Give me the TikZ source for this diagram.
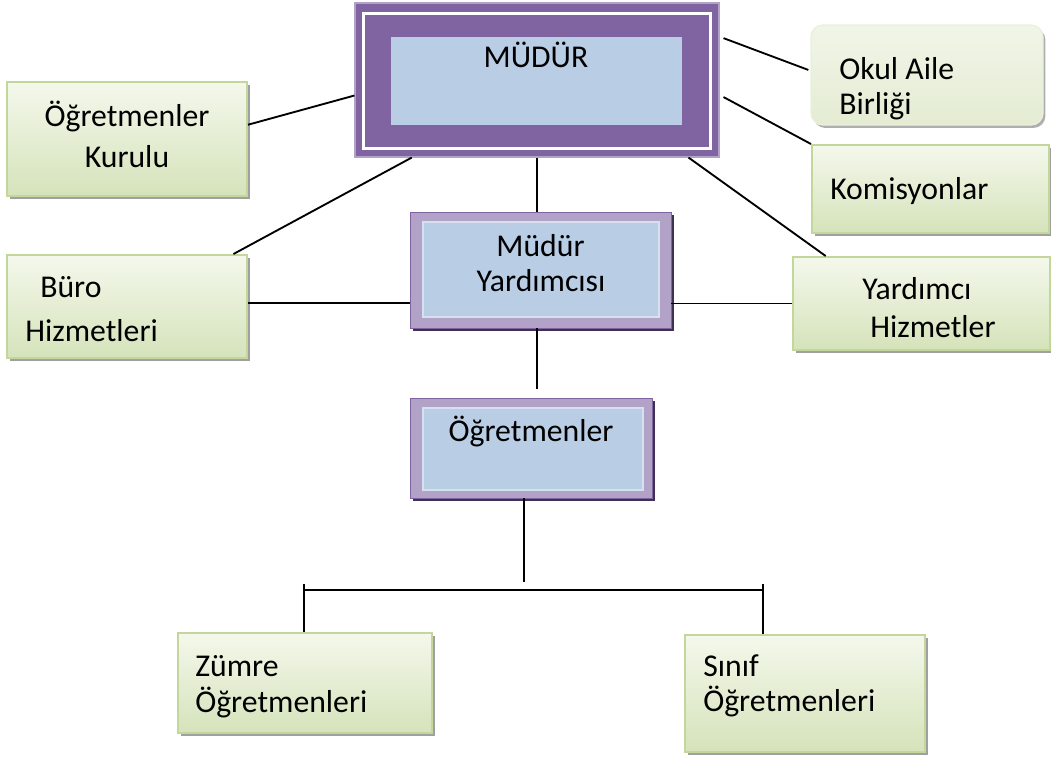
\documentclass[tikz,border=0pt]{standalone}
\usepackage{fontspec}
\setmainfont{Carlito}
\usetikzlibrary{calc,shadows}
\definecolor{grnTop}{HTML}{F4F8EC}
\definecolor{grnBot}{HTML}{D5E3BA}
\definecolor{grnLine}{HTML}{C3D69B}
\definecolor{purD}{HTML}{8064A2}
\definecolor{purL}{HTML}{B3A2C7}
\definecolor{purS}{HTML}{3F3151}
\definecolor{blueF}{HTML}{B9CDE5}
\definecolor{okulT}{HTML}{F1F5E8}
\definecolor{okulB}{HTML}{E4ECD3}
\begin{document}
\begin{tikzpicture}[x=0.75pt,y=-0.75pt,
  sz/.style 2 args={minimum width=#1*0.75pt, minimum height=#2*0.75pt},
  greenbox/.style={rectangle, inner sep=0pt, draw=grnLine, line width=1.5pt,
    top color=grnTop, bottom color=grnBot,
    drop shadow={shadow xshift=2.3pt, shadow yshift=-2.3pt, fill=black!50, opacity=0.75}},
  okulbox/.style={rectangle, rounded corners=9pt, inner sep=0pt, draw=okulB!80!white, line width=1pt,
    top color=okulT, bottom color=okulB,
    drop shadow={shadow xshift=1.8pt, shadow yshift=-2.2pt, fill=black!45, opacity=0.7}},
  purframe/.style={rectangle, inner sep=0pt, draw=purD, line width=0.6pt,
    top color=purL, middle color=purD!90!black, bottom color=purL,
    drop shadow={shadow xshift=2.3pt, shadow yshift=-2.3pt, fill=purS, opacity=1}},
  bluebox/.style={rectangle, inner sep=0pt, fill=blueF, draw=blueF!60!white, line width=0.8pt},
  txt/.style={inner sep=0pt, font=\fontsize{23.8}{28}\selectfont},
  conn/.style={draw=black, line width=1.4pt}]
\useasboundingbox (0,0) rectangle (1051,758);

% ---- MÜDÜR ----
\node[rectangle, inner sep=0pt, fill=purD, draw=purL, line width=0.8pt, sz={364}{154}] (mudur) at (537,80) {};
\node[rectangle, inner sep=0pt, draw=white, line width=2.6pt, sz={347}{135}] (mudurw) at (537,81) {};
\node[bluebox, draw=none, sz={291}{88}] (mudurin) at (536.5,81) {};
\node[txt, anchor=mid] (tmudur) at (536,64) {MÜDÜR};

% ---- Müdür Yardımcısı ----
\node[purframe, sz={261}{116}] (yrd) at (540.5,270) {};
\node[bluebox, sz={236}{95}] (yrdin) at (541,269.5) {};
\node[txt, anchor=mid] (tyrd1) at (540.5,253) {Müdür};
\node[txt, anchor=mid] (tyrd2) at (541,288) {Yardımcısı};

% ---- Öğretmenler ----
\node[purframe, sz={242}{100}] (ogr) at (531,448) {};
\node[bluebox, sz={220}{82}] (ogrin) at (533,449) {};
\node[txt, anchor=mid] (togr) at (531,438) {Öğretmenler};

% ---- green boxes ----
\node[greenbox, sz={240}{114}] (kurulu) at (127,139) {};
\node[txt, anchor=mid] (tkur1) at (127,123) {Öğretmenler};
\node[txt, anchor=mid] (tkur2) at (127,164) {Kurulu};

\node[greenbox, sz={240}{103}] (buro) at (127,306.5) {};
\node[txt, anchor=mid west] (tburo1) at (40,294) {Büro};
\node[txt, anchor=mid west] (tburo2) at (25,338) {Hizmetleri};

\node[okulbox, sz={232}{100}] (okul) at (927,75) {};
\node[txt, anchor=mid west] (tokul1) at (839,76) {Okul Aile};
\node[txt, anchor=mid west] (tokul2) at (839,111) {Birliği};

\node[greenbox, sz={237}{88}] (komis) at (930.5,189) {};
\node[txt, anchor=mid west] (tkomis) at (830,196) {Komisyonlar};

\node[greenbox, sz={257}{93}] (yard) at (921.5,303.5) {};
\node[txt, anchor=mid west] (tyard1) at (862,296) {Yardımcı};
\node[txt, anchor=mid west] (tyard2) at (870,334) {Hizmetler};

\node[greenbox, sz={254}{100}] (zumre) at (305,683) {};
\node[txt, anchor=mid west] (tzum1) at (195,673) {Zümre};
\node[txt, anchor=mid west] (tzum2) at (195,709) {Öğretmenleri};

\node[greenbox, sz={240}{117}] (sinif) at (805,693.5) {};
\node[txt, anchor=mid west] (tsin1) at (703,673) {Sınıf};
\node[txt, anchor=mid west] (tsin2) at (703,708) {Öğretmenleri};

% ---- connectors ----
\draw[conn] ($(kurulu.north east)!0.377!(kurulu.south east)$) -- ($(mudur.north west)!0.60!(mudur.south west)$);
\draw[conn] ($(mudur.south west)!0.157!(mudur.south east)$) -- ($(buro.north west)!0.94!(buro.north east)$);
\draw[conn] (mudur.south) -- (mudur.south |- yrd.north);
\draw[conn] ($(mudur.south west)!0.915!(mudur.south east)$) -- ($(yard.north west)!0.13!(yard.north east)$);
\draw[conn] ($(mudur.north east)!0.23!(mudur.south east)+(4,0)$) -- ($(okul.north west)!0.45!(okul.south west)+(-2,0)$);
\draw[conn] ($(mudur.north east)!0.61!(mudur.south east)+(4,0)$) -- (komis.north west);
\coordinate (yl) at ($(yrd.north west)!0.78!(yrd.south west)$);
\draw[conn] (buro.east |- yl) -- (yl);
\draw[conn] (yrd.east |- yard.west) -- (yard.west);
\coordinate (yb) at (537,389);
\draw[conn] (yrd.south -| yb) -- (yb);
\coordinate (ob) at (524,582);
\draw[conn] (ogr.south -| ob) -- (ob);
\coordinate (bl) at (304,584);
\coordinate (br) at (763,584);
\coordinate (bh) at (0,590);
\draw[conn] (bl |- bh) -- (br |- bh);
\draw[conn] (bl) -- (bl |- zumre.north);
\draw[conn] (br) -- (br |- sinif.north);
\end{tikzpicture}
\end{document}
